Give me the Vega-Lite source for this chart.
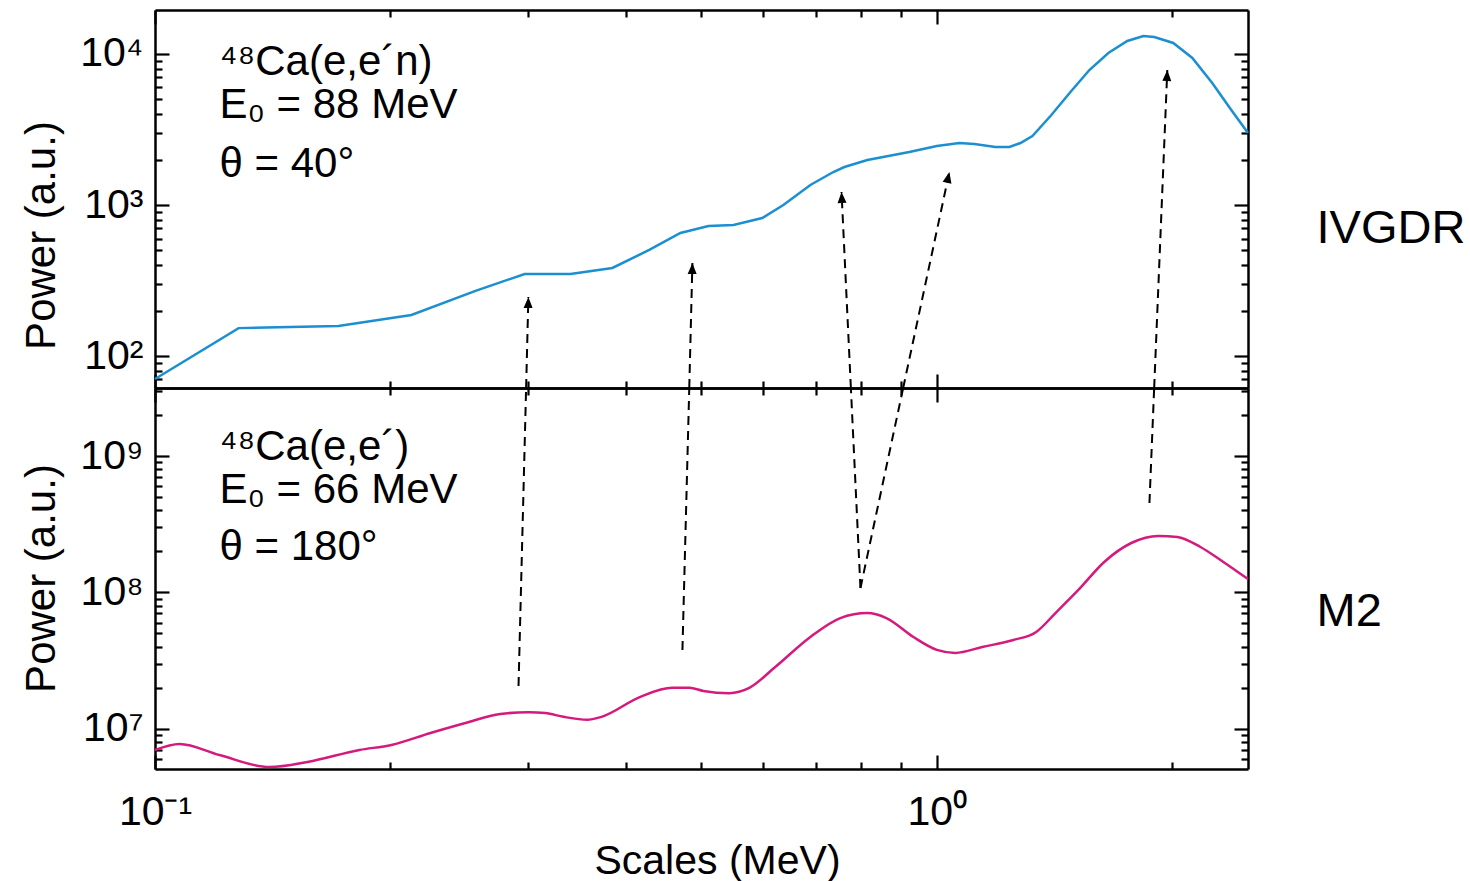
{
  "$schema": "https://vega.github.io/schema/vega-lite/v6.json",
  "padding": {"left": 20, "top": 8, "right": 0, "bottom": 0},
  "spacing": 0,
  "bounds": "flush",
  "resolve": {"scale": {"x": "independent", "y": "independent"}},
  "config": {
    "font": "Liberation Sans",
    "view": {"stroke": null},
    "axis": {
      "grid": false,
      "domainColor": "black",
      "domainWidth": 2.5,
      "tickColor": "black",
      "tickWidth": 2.2,
      "labelColor": "black",
      "titleColor": "black",
      "labelFont": "Liberation Sans",
      "titleFont": "Liberation Sans",
      "labelFontSize": 41,
      "titleFontSize": 41,
      "titleFontWeight": "normal",
      "labelOverlap": false,
      "labelBound": false,
      "labelFlush": false
    }
  },
  "datasets": {
    "ivgdr": [
      {"x": 0.1, "y": 70.4}, {"x": 0.1279, "y": 153}, {"x": 0.1716, "y": 158}, {"x": 0.2128, "y": 187},
      {"x": 0.257, "y": 270}, {"x": 0.297, "y": 349}, {"x": 0.3399, "y": 349}, {"x": 0.3846, "y": 383},
      {"x": 0.4287, "y": 504}, {"x": 0.4699, "y": 653}, {"x": 0.5103, "y": 726}, {"x": 0.5493, "y": 737},
      {"x": 0.598, "y": 820}, {"x": 0.6363, "y": 1000}, {"x": 0.689, "y": 1357}, {"x": 0.7372, "y": 1654},
      {"x": 0.7616, "y": 1785}, {"x": 0.815, "y": 1987}, {"x": 0.9221, "y": 2244}, {"x": 1.0, "y": 2459},
      {"x": 1.0685, "y": 2574}, {"x": 1.117, "y": 2535}, {"x": 1.188, "y": 2421}, {"x": 1.238, "y": 2421},
      {"x": 1.279, "y": 2574}, {"x": 1.325, "y": 2865}, {"x": 1.401, "y": 3945}, {"x": 1.482, "y": 5601},
      {"x": 1.567, "y": 7832}, {"x": 1.657, "y": 10150}, {"x": 1.752, "y": 12190}, {"x": 1.837, "y": 13150},
      {"x": 1.897, "y": 12970}, {"x": 2.006, "y": 11830}, {"x": 2.122, "y": 9408}, {"x": 2.25, "y": 6427},
      {"x": 2.38, "y": 4255}, {"x": 2.5, "y": 3000}
    ],
    "m2": [
      {"x": 0.1, "y": 6970000}, {"x": 0.1075, "y": 7710000}, {"x": 0.1209, "y": 6400000}, {"x": 0.1401, "y": 5220000},
      {"x": 0.1567, "y": 5690000}, {"x": 0.1826, "y": 6970000}, {"x": 0.2006, "y": 7590000}, {"x": 0.2251, "y": 9290000},
      {"x": 0.2495, "y": 11000000}, {"x": 0.2765, "y": 12800000}, {"x": 0.3003, "y": 13200000}, {"x": 0.3157, "y": 13000000},
      {"x": 0.333, "y": 12200000}, {"x": 0.3573, "y": 11600000}, {"x": 0.3724, "y": 12200000}, {"x": 0.4176, "y": 17100000},
      {"x": 0.4588, "y": 19900000}, {"x": 0.4825, "y": 19900000}, {"x": 0.5027, "y": 18900000}, {"x": 0.5428, "y": 18200000},
      {"x": 0.5756, "y": 19900000}, {"x": 0.6213, "y": 28300000}, {"x": 0.689, "y": 47000000}, {"x": 0.7525, "y": 64700000},
      {"x": 0.815, "y": 70400000}, {"x": 0.8618, "y": 64700000}, {"x": 0.9332, "y": 47000000}, {"x": 1.0, "y": 37800000},
      {"x": 1.056, "y": 35900000}, {"x": 1.143, "y": 39700000}, {"x": 1.253, "y": 44700000}, {"x": 1.34, "y": 51200000},
      {"x": 1.418, "y": 70400000}, {"x": 1.517, "y": 104000000}, {"x": 1.637, "y": 167000000}, {"x": 1.773, "y": 230000000},
      {"x": 1.92, "y": 259000000}, {"x": 2.03, "y": 255000000}, {"x": 2.173, "y": 215000000}, {"x": 2.325, "y": 167000000},
      {"x": 2.5, "y": 125000000}
    ],
    "arrowsTop": [
      {"x1": 0.2983, "y1": 61.4, "x2": 0.3003, "y2": 245.9},
      {"x1": 0.4823, "y1": 61.4, "x2": 0.4868, "y2": 413},
      {"x1": 0.7763, "y1": 61.4, "x2": 0.7552, "y2": 1219},
      {"x1": 0.9055, "y1": 61.4, "x2": 1.0375, "y2": 1654},
      {"x1": 1.8964, "y1": 61.4, "x2": 1.9712, "y2": 7833}
    ],
    "arrowsBottom": [
      {"x1": 0.2917, "y1": 20540000, "x2": 0.2983, "y2": 3155000000},
      {"x1": 0.4727, "y1": 37730000, "x2": 0.4823, "y2": 3155000000},
      {"x1": 0.7985, "y1": 107520000, "x2": 0.7763, "y2": 3155000000},
      {"x1": 0.7985, "y1": 107520000, "x2": 0.9055, "y2": 3155000000},
      {"x1": 1.8702, "y1": 452000000, "x2": 1.8964, "y2": 3155000000}
    ],
    "heads": [
      {"x": 0.3003, "y": 245.9, "angle": 1.5},
      {"x": 0.4868, "y": 413, "angle": 1.5},
      {"x": 0.7552, "y": 1219, "angle": -2.7},
      {"x": 1.0375, "y": 1654, "angle": 12.1},
      {"x": 1.9712, "y": 7833, "angle": 2.4}
    ],
    "textTop": [
      {"t": "⁴⁸Ca(e,e´n)", "x": 0.1209, "y": 7262},
      {"t": "E₀ = 88 MeV", "x": 0.1209, "y": 3769},
      {"t": "θ = 40°", "x": 0.1209, "y": 1532}
    ],
    "textBottom": [
      {"t": "⁴⁸Ca(e,e´)", "x": 0.1209, "y": 934700000},
      {"t": "E₀ = 66 MeV", "x": 0.1209, "y": 452100000},
      {"t": "θ = 180°", "x": 0.1209, "y": 172600000}
    ]
  },
  "vconcat": [
    {
      "width": 1093,
      "height": 378,
      "resolve": {"axis": {"x": "independent", "y": "independent"}},
      "layer": [
        {
          "data": {"name": "ivgdr"},
          "mark": {"type": "line", "color": "#1b8fd0", "strokeWidth": 2.5, "interpolate": "linear"},
          "encoding": {
            "x": {"field": "x", "type": "quantitative",
              "scale": {"type": "log", "domain": [0.1, 2.5], "nice": false},
              "axis": {"orient": "bottom", "values": [0.1,0.2,0.3,0.4,0.5,0.6,0.7,0.8,0.9,1,2], "labels": false, "title": null,
                "tickSize": {"condition": {"test": "abs(log(datum.value)/LN10 - round(log(datum.value)/LN10)) < 0.001", "value": -14}, "value": -7}}},
            "y": {"field": "y", "type": "quantitative",
              "scale": {"type": "log", "domain": [61.4, 19558], "nice": false},
              "axis": {"orient": "left", "values": [70,80,90,100,200,300,400,500,600,700,800,900,1000,2000,3000,4000,5000,6000,7000,8000,9000,10000],
                "labelExpr": "datum.value == 100 ? '10²' : datum.value == 1000 ? '10³' : datum.value == 10000 ? '10⁴' : ''",
                "labelPadding": 26,
                "title": "Power (a.u.)", "titleAngle": -90, "titleBaseline": "alphabetic", "titleAlign": "center", "titleX": -101, "titleY": 225, "titleFontSize": 42,
                "tickSize": {"condition": {"test": "abs(log(datum.value)/LN10 - round(log(datum.value)/LN10)) < 0.001", "value": -14}, "value": -7}}}
          }
        },
        {
          "data": {"name": "arrowsTop"},
          "mark": {"type": "rule", "color": "black", "strokeWidth": 2, "strokeDash": [9, 6]},
          "encoding": {
            "x": {"field": "x1", "type": "quantitative",
              "scale": {"type": "log", "domain": [0.1, 2.5], "nice": false},
              "axis": {"orient": "top", "values": [0.1,0.2,0.3,0.4,0.5,0.6,0.7,0.8,0.9,1,2], "labels": false, "title": null,
                "tickSize": {"condition": {"test": "abs(log(datum.value)/LN10 - round(log(datum.value)/LN10)) < 0.001", "value": -14}, "value": -7}}},
            "x2": {"field": "x2"},
            "y": {"field": "y1", "type": "quantitative",
              "scale": {"type": "log", "domain": [61.4, 19558], "nice": false},
              "axis": {"orient": "right", "values": [70,80,90,100,200,300,400,500,600,700,800,900,1000,2000,3000,4000,5000,6000,7000,8000,9000,10000],
                "labels": false,
                "title": "IVGDR", "titleAngle": 0, "titleAlign": "left", "titleBaseline": "alphabetic", "titleX": 68, "titleY": 232, "titleFontSize": 47,
                "tickSize": {"condition": {"test": "abs(log(datum.value)/LN10 - round(log(datum.value)/LN10)) < 0.001", "value": -14}, "value": -7}}},
            "y2": {"field": "y2"}
          }
        },
        {
          "data": {"name": "heads"},
          "mark": {"type": "point", "shape": "M0,0L0.45,1.1L-0.45,1.1Z", "filled": true, "color": "black", "opacity": 1, "size": 400},
          "encoding": {
            "x": {"field": "x", "type": "quantitative", "scale": {"type": "log", "domain": [0.1, 2.5], "nice": false}, "axis": null},
            "y": {"field": "y", "type": "quantitative", "scale": {"type": "log", "domain": [61.4, 19558], "nice": false}, "axis": null},
            "angle": {"field": "angle", "type": "quantitative", "scale": null}
          }
        },
        {
          "data": {"name": "textTop"},
          "mark": {"type": "text", "align": "left", "baseline": "alphabetic", "fontSize": 42, "font": "Liberation Sans", "color": "black"},
          "encoding": {
            "x": {"field": "x", "type": "quantitative", "scale": {"type": "log", "domain": [0.1, 2.5], "nice": false}, "axis": null},
            "y": {"field": "y", "type": "quantitative", "scale": {"type": "log", "domain": [61.4, 19558], "nice": false}, "axis": null},
            "text": {"field": "t"}
          }
        }
      ]
    },
    {
      "width": 1093,
      "height": 381,
      "resolve": {"axis": {"x": "independent", "y": "independent"}},
      "layer": [
        {
          "data": {"name": "m2"},
          "mark": {"type": "line", "color": "#d41a7c", "strokeWidth": 2.5, "interpolate": "monotone"},
          "encoding": {
            "x": {"field": "x", "type": "quantitative",
              "scale": {"type": "log", "domain": [0.1, 2.5], "nice": false},
              "axis": {"orient": "bottom", "values": [0.1,0.2,0.3,0.4,0.5,0.6,0.7,0.8,0.9,1,2],
                "labelExpr": "datum.value == 0.1 ? '10⁻¹' : datum.value == 1 ? '10⁰' : ''",
                "labelPadding": 37,
                "title": "Scales (MeV)", "titleX": 562, "titleY": 104, "titleBaseline": "alphabetic", "titleAlign": "center",
                "tickSize": {"condition": {"test": "abs(log(datum.value)/LN10 - round(log(datum.value)/LN10)) < 0.001", "value": -14}, "value": -7}}},
            "y": {"field": "y", "type": "quantitative",
              "scale": {"type": "log", "domain": [5053000, 3155000000], "nice": false},
              "axis": {"orient": "left", "values": [6000000,7000000,8000000,9000000,10000000,20000000,30000000,40000000,50000000,60000000,70000000,80000000,90000000,100000000,200000000,300000000,400000000,500000000,600000000,700000000,800000000,900000000,1000000000,2000000000,3000000000],
                "labelExpr": "datum.value == 10000000 ? '10⁷' : datum.value == 100000000 ? '10⁸' : datum.value == 1000000000 ? '10⁹' : ''",
                "labelPadding": 26,
                "title": "Power (a.u.)", "titleAngle": -90, "titleBaseline": "alphabetic", "titleAlign": "center", "titleX": -101, "titleY": 190, "titleFontSize": 42,
                "tickSize": {"condition": {"test": "abs(log(datum.value)/LN10 - round(log(datum.value)/LN10)) < 0.001", "value": -14}, "value": -7}}}
          }
        },
        {
          "data": {"name": "arrowsBottom"},
          "mark": {"type": "rule", "color": "black", "strokeWidth": 2, "strokeDash": [9, 6]},
          "encoding": {
            "x": {"field": "x1", "type": "quantitative",
              "scale": {"type": "log", "domain": [0.1, 2.5], "nice": false},
              "axis": {"orient": "top", "values": [0.1,0.2,0.3,0.4,0.5,0.6,0.7,0.8,0.9,1,2], "labels": false, "title": null,
                "tickSize": {"condition": {"test": "abs(log(datum.value)/LN10 - round(log(datum.value)/LN10)) < 0.001", "value": -14}, "value": -7}}},
            "x2": {"field": "x2"},
            "y": {"field": "y1", "type": "quantitative",
              "scale": {"type": "log", "domain": [5053000, 3155000000], "nice": false},
              "axis": {"orient": "right", "values": [6000000,7000000,8000000,9000000,10000000,20000000,30000000,40000000,50000000,60000000,70000000,80000000,90000000,100000000,200000000,300000000,400000000,500000000,600000000,700000000,800000000,900000000,1000000000,2000000000,3000000000],
                "labels": false,
                "title": "M2", "titleAngle": 0, "titleAlign": "left", "titleBaseline": "alphabetic", "titleX": 68, "titleY": 237, "titleFontSize": 47,
                "tickSize": {"condition": {"test": "abs(log(datum.value)/LN10 - round(log(datum.value)/LN10)) < 0.001", "value": -14}, "value": -7}}},
            "y2": {"field": "y2"}
          }
        },
        {
          "data": {"name": "textBottom"},
          "mark": {"type": "text", "align": "left", "baseline": "alphabetic", "fontSize": 42, "font": "Liberation Sans", "color": "black"},
          "encoding": {
            "x": {"field": "x", "type": "quantitative", "scale": {"type": "log", "domain": [0.1, 2.5], "nice": false}, "axis": null},
            "y": {"field": "y", "type": "quantitative", "scale": {"type": "log", "domain": [5053000, 3155000000], "nice": false}, "axis": null},
            "text": {"field": "t"}
          }
        }
      ]
    }
  ]
}
